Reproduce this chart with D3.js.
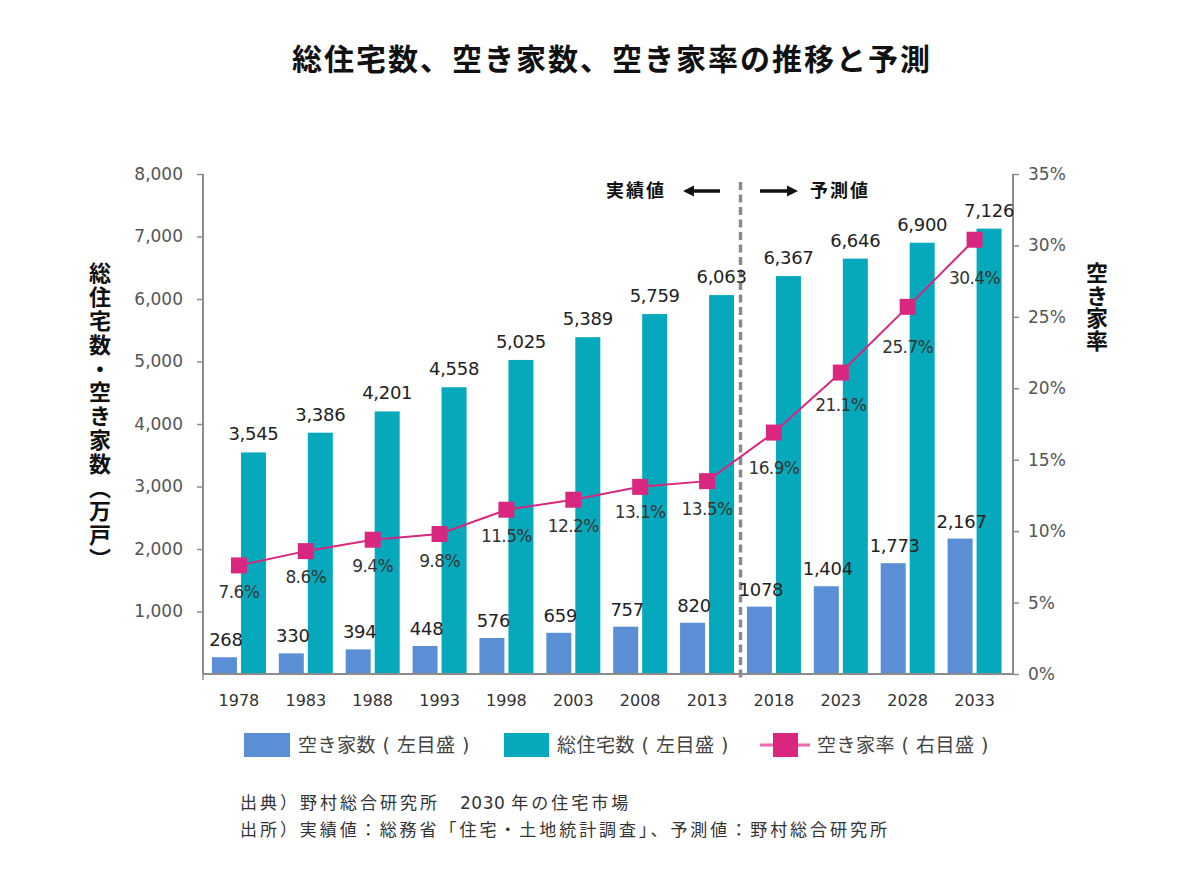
<!DOCTYPE html>
<html><head><meta charset="utf-8">
<script src="https://cdn.jsdelivr.net/npm/d3@7"></script>
<style>
html,body{margin:0;padding:0;background:#fff;}
svg{display:block;font-family:"DejaVu Sans","Noto Sans CJK JP",sans-serif;}
</style></head>
<body>
<svg id="c" width="1200" height="871"></svg>
<script>
const years = ["1978","1983","1988","1993","1998","2003","2008","2013","2018","2023","2028","2033"];
const vacantHouses = [268,330,394,448,576,659,757,820,1078,1404,1773,2167];
const totalHouses = [3545,3861,4201,4588,5025,5389,5759,6063,6367,6646,6900,7126];
const totalLabels = ["3,545","3,386","4,201","4,558","5,025","5,389","5,759","6,063","6,367","6,646","6,900","7,126"];
const vacantLabels = ["268","330","394","448","576","659","757","820","1078","1,404","1,773","2,167"];
const vacancyRate = [7.6,8.6,9.4,9.8,11.5,12.2,13.1,13.5,16.9,21.1,25.7,30.4];
const leftTicks = [1000,2000,3000,4000,5000,6000,7000,8000];
const rightTicks = [0,5,10,15,20,25,30,35];
const rateLabelDy = [33,32,32,33,32,32,31,34,41,38,46,44];

const C_VAC = "#5b8fd5", C_TOT = "#05a9bb", C_RATE = "#d9267f";
const svg = d3.select("#c");

const x = d3.scaleBand().domain(years).range([205.5, 1008]).paddingInner(0);
const yL = d3.scaleLinear().domain([0, 8000]).range([674, 174]);
const yR = d3.scaleLinear().domain([0, 35]).range([674, 174]);
const cx = d => x(d) + x.bandwidth() / 2;

// title
svg.append("text").attr("x", 612).attr("y", 70).attr("text-anchor", "middle")
  .attr("font-family", "'Noto Sans CJK JP'").attr("font-weight", "bold")
  .attr("font-size", 30).attr("letter-spacing", 2).attr("fill", "#111")
  .text("総住宅数、空き家数、空き家率の推移と予測");

// bars
const g = svg.append("g");
years.forEach((yr, i) => {
  const c = cx(yr);
  g.append("rect").attr("x", c - 27).attr("width", 25)
    .attr("y", yL(vacantHouses[i])).attr("height", yL(0) - yL(vacantHouses[i])).attr("fill", C_VAC);
  g.append("rect").attr("x", c + 2).attr("width", 25)
    .attr("y", yL(totalHouses[i])).attr("height", yL(0) - yL(totalHouses[i])).attr("fill", C_TOT);
});

// dashed separator
const sepX = (cx("2013") + cx("2018")) / 2;
svg.append("line").attr("x1", sepX).attr("x2", sepX).attr("y1", 182).attr("y2", 678)
  .attr("stroke", "#8a8a8a").attr("stroke-width", 3.5).attr("stroke-dasharray", "8,4.5");

// axes
const axisColor = "#8c8c8c";
const gl = svg.append("g").attr("transform", "translate(203,0)")
  .call(d3.axisLeft(yL).tickValues(leftTicks).tickSize(6).tickPadding(14).tickFormat(d3.format(",")));
const gr = svg.append("g").attr("transform", "translate(1013,0)")
  .call(d3.axisRight(yR).tickValues(rightTicks).tickSize(6).tickPadding(9).tickFormat(d => d + "%"));
[gl, gr].forEach(a => {
  a.select(".domain").attr("stroke", axisColor).attr("stroke-width", 2).attr("d", "M0,174V674");
  a.selectAll(".tick line").attr("stroke", axisColor).attr("stroke-width", 1.5);
  a.selectAll(".tick text").attr("fill", "#555").attr("font-size", 17).attr("font-family", "'DejaVu Sans'");
});
// bottom axis
svg.append("line").attr("x1", 203).attr("x2", 1013).attr("y1", 674).attr("y2", 674)
  .attr("stroke", axisColor).attr("stroke-width", 2);
svg.append("line").attr("x1", 203).attr("x2", 203).attr("y1", 674).attr("y2", 680)
  .attr("stroke", axisColor).attr("stroke-width", 1.5);
svg.append("g").selectAll("text").data(years).join("text")
  .attr("x", d => cx(d)).attr("y", 706).attr("text-anchor", "middle")
  .attr("font-size", 16).attr("fill", "#333").text(d => d);

// value labels
svg.append("g").selectAll("text").data(years).join("text")
  .attr("x", d => cx(d) + 14.5).attr("y", (d, i) => yL(totalHouses[i]) - 12)
  .attr("text-anchor", "middle").attr("font-size", 18).attr("fill", "#222")
  .attr("letter-spacing", -0.3).text((d, i) => totalLabels[i]);
svg.append("g").selectAll("text").data(years).join("text")
  .attr("x", d => cx(d) - 13).attr("y", (d, i) => yL(vacantHouses[i]) - 11)
  .attr("text-anchor", "middle").attr("font-size", 18).attr("fill", "#222")
  .attr("letter-spacing", -0.3).text((d, i) => vacantLabels[i]);

// rate line
const line = d3.line().x((d, i) => cx(years[i])).y(d => yR(d));
svg.append("path").datum(vacancyRate).attr("d", line).attr("fill", "none")
  .attr("stroke", C_RATE).attr("stroke-width", 2);
svg.append("g").selectAll("rect").data(vacancyRate).join("rect")
  .attr("x", (d, i) => cx(years[i]) - 8).attr("y", d => yR(d) - 8)
  .attr("width", 16).attr("height", 16).attr("fill", C_RATE);
svg.append("g").selectAll("text").data(vacancyRate).join("text")
  .attr("x", (d, i) => cx(years[i])).attr("y", (d, i) => yR(d) + rateLabelDy[i])
  .attr("text-anchor", "middle").attr("font-size", 17).attr("fill", "#333")
  .attr("letter-spacing", -0.6).text(d => d.toFixed(1) + "%");

// actual / forecast annotations
const ann = svg.append("g").attr("font-family", "'Noto Sans CJK JP'").attr("font-weight", "bold")
  .attr("font-size", 18).attr("fill", "#111");
ann.append("text").attr("x", 606).attr("y", 197).attr("letter-spacing", 2).text("実績値");
ann.append("text").attr("x", 810).attr("y", 197).attr("letter-spacing", 2).text("予測値");
svg.append("line").attr("x1", 692).attr("x2", 720).attr("y1", 191).attr("y2", 191).attr("stroke", "#111").attr("stroke-width", 3.5);
svg.append("path").attr("d", "M683,191L694,185.5L694,196.5Z").attr("fill", "#111");
svg.append("line").attr("x1", 760).attr("x2", 789).attr("y1", 191).attr("y2", 191).attr("stroke", "#111").attr("stroke-width", 3.5);
svg.append("path").attr("d", "M798,191L787,185.5L787,196.5Z").attr("fill", "#111");

// axis titles
svg.append("text").attr("x", 100).attr("y", 262)
  .attr("style", "writing-mode: vertical-rl; font-family:'Noto Sans CJK JP'; font-weight:bold; font-size:22px;")
  .attr("fill", "#111").attr("letter-spacing", 1.8).text("総住宅数・空き家数（万戸）");
svg.append("text").attr("x", 1097).attr("y", 262)
  .attr("style", "writing-mode: vertical-rl; font-family:'Noto Sans CJK JP'; font-weight:bold; font-size:22px;")
  .attr("fill", "#111").attr("letter-spacing", 0.5).text("空き家率");

// legend
const lg = svg.append("g").attr("font-size", 19).attr("fill", "#444").attr("letter-spacing", 0.5);
lg.append("rect").attr("x", 244).attr("y", 733).attr("width", 46).attr("height", 24).attr("fill", C_VAC);
lg.append("text").attr("x", 298).attr("y", 752).text("空き家数 ( 左目盛 )");
lg.append("rect").attr("x", 504).attr("y", 733).attr("width", 45).attr("height", 24).attr("fill", C_TOT);
lg.append("text").attr("x", 557).attr("y", 752).text("総住宅数 ( 左目盛 )");
lg.append("line").attr("x1", 760).attr("x2", 810).attr("y1", 745).attr("y2", 745).attr("stroke", "#ec6aa9").attr("stroke-width", 3);
lg.append("rect").attr("x", 773).attr("y", 733).attr("width", 25).attr("height", 24).attr("fill", C_RATE);
lg.append("text").attr("x", 817).attr("y", 752).text("空き家率 ( 右目盛 )");

// footer
const ft = svg.append("g").attr("font-size", 17).attr("fill", "#333");
const f1 = ft.append("text").attr("x", 240).attr("y", 809);
f1.append("tspan").attr("letter-spacing", 3.0).text("出典）野村総合研究所　");
f1.append("tspan").attr("letter-spacing", 0.5).text("2030 ");
f1.append("tspan").attr("letter-spacing", 3.0).text("年の住宅市場");
ft.append("text").attr("x", 240).attr("y", 836).attr("letter-spacing", 2.95)
  .text("出所）実績値：総務省「住宅・土地統計調査」、予測値：野村総合研究所");
</script>
</body></html>
